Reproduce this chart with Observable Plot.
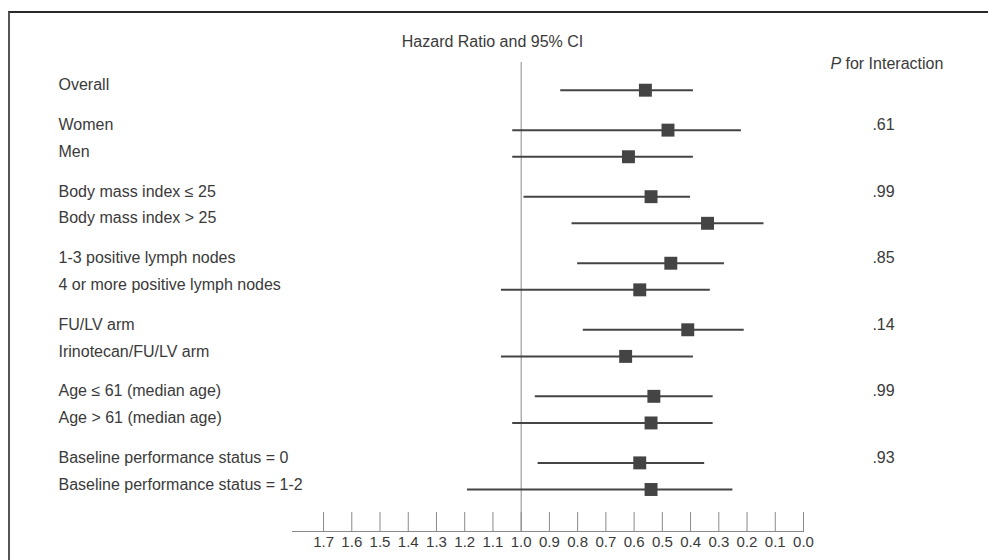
<!DOCTYPE html>
<html><head><meta charset="utf-8">
<script src="https://cdn.jsdelivr.net/npm/d3@7"></script>
<script src="https://cdn.jsdelivr.net/npm/@observablehq/plot@0.6"></script>
<style>
html,body{margin:0;padding:0;background:#fff;}
#wrap{position:relative;width:988px;height:560px;overflow:hidden;}
#wrap svg{position:absolute;left:0;top:0;background:transparent;}
#box{position:absolute;left:8px;top:11px;right:-10px;bottom:-10px;border-left:2px solid #555;border-top:2px solid #2a2a2a;pointer-events:none;}
</style></head><body><div id="wrap"></div>
<script>
// ---- data ----
const subgroups = [
  "Overall",
  "Women",
  "Men",
  "Body mass index \u2264 25",
  "Body mass index > 25",
  "1-3 positive lymph nodes",
  "4 or more positive lymph nodes",
  "FU/LV arm",
  "Irinotecan/FU/LV arm",
  "Age \u2264 61 (median age)",
  "Age > 61 (median age)",
  "Baseline performance status = 0",
  "Baseline performance status = 1-2"
];
const groupIds = [0, 1, 1, 2, 2, 3, 3, 4, 4, 5, 5, 6, 6];
const hazardRatio = [0.56, 0.48, 0.62, 0.54, 0.34, 0.47, 0.58, 0.41, 0.63, 0.53, 0.54, 0.58, 0.54];
const ciLower     = [0.39, 0.22, 0.39, 0.40, 0.14, 0.28, 0.33, 0.21, 0.39, 0.32, 0.32, 0.35, 0.25];
const ciUpper     = [0.86, 1.03, 1.03, 0.99, 0.82, 0.80, 1.07, 0.78, 1.07, 0.95, 1.03, 0.94, 1.19];
const pGroups = [1, 2, 3, 4, 5, 6];
const pValues = [".61", ".99", ".85", ".14", ".99", ".93"];
const xTicks = [1.7, 1.6, 1.5, 1.4, 1.3, 1.2, 1.1, 1.0, 0.9, 0.8, 0.7, 0.6, 0.5, 0.4, 0.3, 0.2, 0.1, 0.0];
const titleText = "Hazard Ratio and 95% CI";
const pHeaderItalic = "P";
const pHeaderRest = "for Interaction";

// ---- table ----
const rows = subgroups.map((label, i) => ({
  label, group: groupIds[i], pos: i + 0.5 * groupIds[i],
  hr: hazardRatio[i], lo: ciLower[i], hi: ciUpper[i]
}));
const pRows = pGroups.map((g, k) => ({
  p: pValues[k], pos: rows.find(r => r.group === g).pos
}));

const ink = "#444";
const txt = "#3a3a3a";

const chart = Plot.plot({
  width: 988,
  height: 560,
  marginLeft: 292,
  marginRight: 185,
  marginTop: 62,
  marginBottom: 29,
  style: {fontFamily: "'Liberation Sans', Arial, Helvetica, sans-serif", color: txt, background: "transparent"},
  x: {domain: [1.81, 0], axis: null},
  y: {domain: [0, 15], range: [89.7, 489], axis: null},
  marks: [
    Plot.ruleX([1], {stroke: "#8a8a8a", strokeWidth: 1}),
    Plot.ruleX(xTicks, {x: d => d, stroke: "#8a8a8a", strokeWidth: 1, insetTop: 450}),
    Plot.frame({anchor: "bottom", stroke: "#8a8a8a", strokeWidth: 1}),
    Plot.axisX(xTicks, {tickSize: 0, tickPadding: 5, tickFormat: d3.format(".1f"), fontSize: 15, fill: txt, label: null}),
    Plot.ruleY(rows, {y: "pos", x1: "lo", x2: "hi", stroke: ink, strokeWidth: 2}),
    Plot.dot(rows, {x: "hr", y: "pos", symbol: "square", r: 7.3, fill: ink, stroke: null}),
    Plot.text(rows, {y: "pos", text: "label", frameAnchor: "left", textAnchor: "start", lineAnchor: "middle", dx: -234, dy: -5, fontSize: 16, fill: txt}),
    Plot.text(pRows, {y: "pos", text: "p", frameAnchor: "right", textAnchor: "middle", lineAnchor: "middle", dx: 80, dy: -5, fontSize: 16, fill: txt}),
    Plot.text([titleText], {text: d => d, frameAnchor: "top-left", textAnchor: "middle", lineAnchor: "middle", dx: 200, dy: -21, fontSize: 16, fill: txt}),
    Plot.text([pHeaderItalic], {text: d => d, frameAnchor: "top-right", textAnchor: "start", lineAnchor: "middle", dx: 27, dy: 1, fontSize: 16, fontStyle: "italic", fill: txt}),
    Plot.text([pHeaderRest], {text: d => d, frameAnchor: "top-right", textAnchor: "start", lineAnchor: "middle", dx: 42, dy: 1, fontSize: 16, fill: txt})
  ]
});

const wrap = document.getElementById("wrap");
wrap.appendChild(chart);
const box = document.createElement("div");
box.id = "box";
wrap.appendChild(box);
</script>
</body></html>
